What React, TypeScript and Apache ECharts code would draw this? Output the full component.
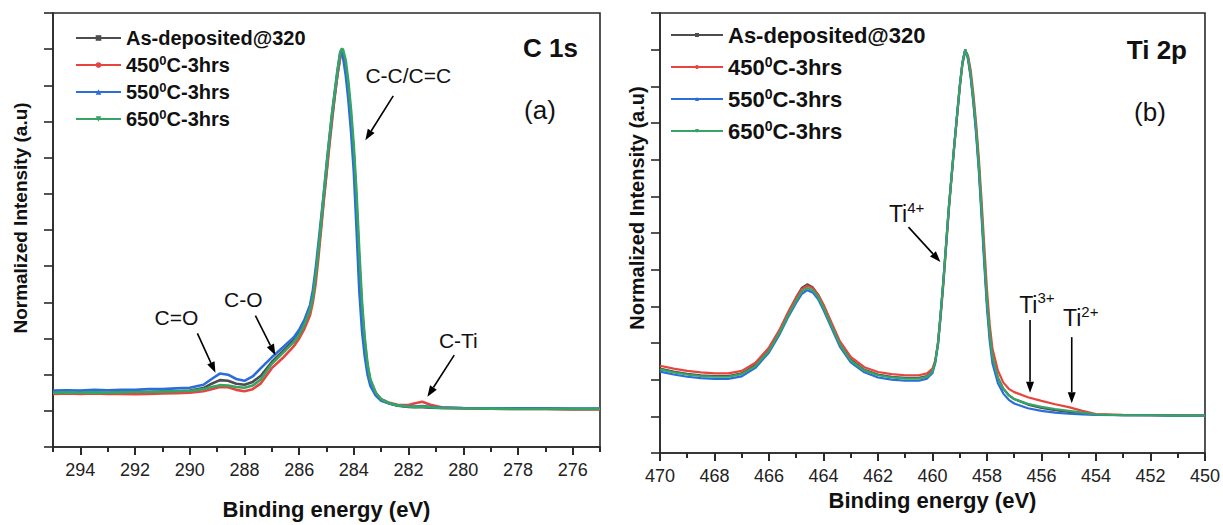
import React, { useEffect, useRef } from "react";
import * as echarts from "echarts";

const FONT = "Liberation Sans, Arial, Helvetica, sans-serif";

const seriesNames = ["As-deposited@320", "450C-3hrs", "550C-3hrs", "650C-3hrs"];
const legendLabels = ["As-deposited@320", "450{s|0}C-3hrs", "550{s|0}C-3hrs", "650{s|0}C-3hrs"];
const seriesColors = ["#4d4d4d", "#e8443e", "#2a6ddb", "#35a465"];
const seriesSymbols = ["rect", "circle", "triangle", "path://M0,0L10,0L5,9Z"];

const c1sEnergy = [295, 294.5, 294, 293.5, 293, 292.5, 292, 291.5, 291, 290.5, 290, 289.5, 289.2, 288.9, 288.6, 288.3, 288, 287.7, 287.4, 287, 286.6, 286.2, 286, 285.8, 285.6, 285.5, 285.4, 285.3, 285.2, 285.1, 285, 284.9, 284.8, 284.7, 284.6, 284.5, 284.45, 284.4, 284.3, 284.2, 284.1, 284, 283.9, 283.8, 283.7, 283.6, 283.5, 283.4, 283.2, 283, 282.7, 282.4, 282, 281.8, 281.5, 281.2, 280.8, 280, 279, 278, 277, 276, 275];
const c1sAsDep = [0.05, 0.05, 0.049, 0.05, 0.05, 0.051, 0.051, 0.052, 0.053, 0.054, 0.056, 0.063, 0.075, 0.085, 0.083, 0.075, 0.072, 0.08, 0.097, 0.135, 0.165, 0.195, 0.215, 0.245, 0.285, 0.318, 0.37, 0.44, 0.51, 0.59, 0.66, 0.74, 0.81, 0.87, 0.93, 0.98, 0.99, 0.985, 0.95, 0.88, 0.8, 0.7, 0.56, 0.39, 0.26, 0.175, 0.115, 0.08, 0.047, 0.03, 0.02, 0.014, 0.011, 0.01, 0.01, 0.009, 0.008, 0.007, 0.007, 0.006, 0.006, 0.005, 0.005];
const c1s450 = [0.047, 0.048, 0.047, 0.048, 0.047, 0.047, 0.046, 0.047, 0.048, 0.049, 0.05, 0.054, 0.06, 0.066, 0.065, 0.058, 0.054, 0.06, 0.076, 0.118, 0.146, 0.178, 0.2, 0.228, 0.265, 0.3, 0.35, 0.42, 0.5, 0.58, 0.655, 0.73, 0.8, 0.87, 0.93, 0.975, 0.985, 0.985, 0.955, 0.89, 0.81, 0.71, 0.57, 0.41, 0.28, 0.19, 0.125, 0.085, 0.05, 0.032, 0.022, 0.017, 0.016, 0.02, 0.025, 0.017, 0.01, 0.007, 0.006, 0.005, 0.005, 0.004, 0.004];
const c1s550 = [0.056, 0.057, 0.056, 0.058, 0.057, 0.058, 0.058, 0.06, 0.06, 0.062, 0.064, 0.072, 0.088, 0.103, 0.1, 0.088, 0.083, 0.095, 0.118, 0.148, 0.175, 0.203, 0.224, 0.253, 0.293, 0.333, 0.39, 0.46, 0.53, 0.6, 0.68, 0.75, 0.82, 0.88, 0.94, 0.99, 1.0, 0.98, 0.93, 0.86, 0.77, 0.66, 0.5, 0.33, 0.22, 0.15, 0.1, 0.07, 0.042, 0.028, 0.02, 0.015, 0.012, 0.012, 0.013, 0.011, 0.009, 0.008, 0.007, 0.007, 0.006, 0.006, 0.006];
const c1s650 = [0.05, 0.051, 0.05, 0.051, 0.05, 0.051, 0.052, 0.052, 0.053, 0.054, 0.055, 0.06, 0.066, 0.071, 0.07, 0.066, 0.064, 0.07, 0.087, 0.13, 0.16, 0.19, 0.21, 0.24, 0.28, 0.313, 0.37, 0.44, 0.52, 0.6, 0.675, 0.75, 0.82, 0.88, 0.94, 0.99, 1.0, 1.0, 0.97, 0.91, 0.83, 0.73, 0.6, 0.44, 0.3, 0.2, 0.13, 0.088, 0.05, 0.032, 0.021, 0.015, 0.012, 0.011, 0.012, 0.01, 0.008, 0.007, 0.006, 0.005, 0.005, 0.005, 0.005];

const ti2pEnergy = [470, 469.5, 469, 468.5, 468, 467.5, 467, 466.5, 466, 465.6, 465.3, 465, 464.8, 464.6, 464.4, 464.2, 464, 463.7, 463.4, 463, 462.5, 462, 461.5, 461, 460.5, 460.2, 460, 459.9, 459.8, 459.7, 459.6, 459.5, 459.4, 459.3, 459.2, 459.1, 459, 458.9, 458.8, 458.7, 458.6, 458.5, 458.4, 458.3, 458.2, 458.1, 458, 457.9, 457.8, 457.6, 457.4, 457.2, 457, 456.5, 456, 455.5, 455, 454.5, 454, 453, 452, 451, 450];
const ti2pAsDep = [0.13, 0.122, 0.116, 0.112, 0.11, 0.11, 0.117, 0.14, 0.183, 0.235, 0.282, 0.325, 0.35, 0.36, 0.352, 0.332, 0.302, 0.25, 0.2, 0.155, 0.127, 0.114, 0.108, 0.105, 0.105, 0.11, 0.125, 0.15, 0.2, 0.28, 0.37, 0.47, 0.57, 0.655, 0.74, 0.82, 0.9, 0.965, 1.0, 0.98, 0.93, 0.86, 0.78, 0.68, 0.56, 0.43, 0.31, 0.22, 0.16, 0.105, 0.075, 0.058, 0.047, 0.032, 0.023, 0.017, 0.012, 0.008, 0.005, 0.003, 0.003, 0.002, 0.002];
const ti2p450 = [0.138, 0.13, 0.124, 0.12, 0.117, 0.117, 0.124, 0.146, 0.188, 0.238, 0.284, 0.325, 0.347, 0.356, 0.35, 0.332, 0.305, 0.255, 0.205, 0.162, 0.134, 0.121, 0.115, 0.112, 0.112, 0.117, 0.13, 0.152, 0.195, 0.27, 0.36, 0.46, 0.56, 0.65, 0.735, 0.815, 0.895, 0.96, 0.995, 0.985, 0.945, 0.88, 0.8, 0.705, 0.59, 0.465, 0.345, 0.25, 0.185, 0.125, 0.092, 0.075, 0.066, 0.052, 0.042, 0.033, 0.025, 0.015, 0.006, 0.004, 0.003, 0.003, 0.002];
const ti2p550 = [0.122, 0.114, 0.108, 0.104, 0.102, 0.102, 0.109, 0.132, 0.174, 0.225, 0.27, 0.31, 0.333, 0.344, 0.338, 0.32, 0.29, 0.24, 0.19, 0.147, 0.12, 0.106, 0.1, 0.097, 0.097, 0.103, 0.118, 0.145, 0.195, 0.28, 0.37, 0.47, 0.57, 0.655, 0.74, 0.82, 0.9, 0.965, 1.0, 0.975, 0.925, 0.855, 0.77, 0.67, 0.545, 0.415, 0.295, 0.205, 0.145, 0.09, 0.062, 0.045, 0.035, 0.022, 0.015, 0.01, 0.007, 0.005, 0.004, 0.003, 0.003, 0.002, 0.002];
const ti2p650 = [0.128, 0.12, 0.114, 0.11, 0.108, 0.108, 0.115, 0.137, 0.179, 0.23, 0.275, 0.316, 0.34, 0.35, 0.344, 0.326, 0.296, 0.246, 0.196, 0.152, 0.125, 0.112, 0.106, 0.103, 0.103, 0.108, 0.123, 0.148, 0.198, 0.28, 0.37, 0.47, 0.57, 0.655, 0.74, 0.82, 0.9, 0.965, 1.0, 0.98, 0.932, 0.865, 0.785, 0.688, 0.565, 0.435, 0.315, 0.225, 0.163, 0.105, 0.075, 0.057, 0.047, 0.034, 0.026, 0.02, 0.015, 0.01, 0.005, 0.003, 0.003, 0.002, 0.002];

const c1sMajorTicks = [276, 278, 280, 282, 284, 286, 288, 290, 292, 294];
const c1sMinorTicks = [275, 277, 279, 281, 283, 285, 287, 289, 291, 293, 295];
const ti2pMajorTicks = [450, 452, 454, 456, 458, 460, 462, 464, 466, 468, 470];
const ti2pMinorTicks = [451, 453, 455, 457, 459, 461, 463, 465, 467, 469];
const yTicks = [-0.1, 0, 0.1, 0.2, 0.3, 0.4, 0.5, 0.6, 0.7, 0.8, 0.9, 1.0, 1.1];

const c1sNotes = [
  { text: "{b|C-C/C=C}", at: [282.01, 0.931], from: [282.56, 0.871], to: [283.58, 0.748] },
  { text: "{b|C=O}", at: [290.49, 0.263], from: [289.72, 0.214], to: [289.06, 0.105] },
  { text: "{b|C-O}", at: [288.04, 0.312], from: [287.6, 0.263], to: [286.87, 0.154] },
  { text: "{b|C-Ti}", at: [280.18, 0.2], from: [280.33, 0.154], to: [281.31, 0.039] },
];
const ti2pNotes = [
  { text: "{t|Ti}{s|4+}", at: [460.95, 0.555], from: [460.88, 0.516], to: [459.71, 0.421] },
  { text: "{t|Ti}{s|3+}", at: [456.17, 0.309], from: [456.42, 0.263], to: [456.42, 0.064] },
  { text: "{t|Ti}{s|2+}", at: [454.56, 0.271], from: [454.89, 0.216], to: [454.89, 0.036] },
];

const c1sValues = [c1sAsDep, c1s450, c1s550, c1s650];
const ti2pValues = [ti2pAsDep, ti2p450, ti2p550, ti2p650];

const AX = "#2a2a2a";

function zip(xs: number[], ys: number[]) {
  return xs.map((x, i) => [x, ys[i]]);
}

function makeXAxes(gridIndex: number, min: number, max: number, major: number[], minor: number[], nameGap: number) {
  return [
    {
      type: "value", gridIndex, min, max, inverse: true, position: "bottom",
      name: "Binding energy (eV)", nameLocation: "middle", nameGap,
      nameTextStyle: { fontSize: 22, fontWeight: "bold", color: "#111", fontFamily: FONT },
      axisLine: { show: true, onZero: false, lineStyle: { color: AX, width: 1.6 } },
      axisTick: { show: true, inside: false, length: 8, customValues: major, lineStyle: { color: AX, width: 2 } },
      axisLabel: { show: true, customValues: major, fontSize: 18, color: "#222", margin: 14, fontFamily: FONT },
      splitLine: { show: false },
    },
    {
      type: "value", gridIndex, min, max, inverse: true, position: "bottom",
      axisLine: { show: false, onZero: false },
      axisTick: { show: true, inside: false, length: 5, customValues: minor, lineStyle: { color: AX, width: 2 } },
      axisLabel: { show: false },
      splitLine: { show: false },
    },
  ];
}

function makeYAxis(gridIndex: number) {
  return {
    type: "value", gridIndex, min: -0.1, max: 1.1,
    axisLine: { show: true, onZero: false, lineStyle: { color: AX, width: 1.6 } },
    axisTick: { show: true, inside: false, length: 9, customValues: yTicks, lineStyle: { color: AX, width: 1.6 } },
    axisLabel: { show: false },
    splitLine: { show: false },
  };
}

function makeSeries(xAxisIndex: number, yAxisIndex: number, energy: number[], values: number[][], width: number) {
  return seriesNames.map((name, i) => ({
    type: "line", name, xAxisIndex, yAxisIndex,
    data: zip(energy, values[i]),
    symbol: seriesSymbols[i], symbolSize: 5, showSymbol: false,
    lineStyle: { color: seriesColors[i], width },
    itemStyle: { color: seriesColors[i] },
    emphasis: { disabled: true },
    z: 2 + i,
  }));
}

function arrow(p0: number[], p1: number[]) {
  const dx = p1[0] - p0[0];
  const dy = p1[1] - p0[1];
  const L = Math.hypot(dx, dy) || 1;
  const ux = dx / L, uy = dy / L;
  const head = 11, half = 4;
  const bx = p1[0] - ux * head, by = p1[1] - uy * head;
  return [
    { type: "line", shape: { x1: p0[0], y1: p0[1], x2: bx, y2: by }, style: { stroke: "#000", lineWidth: 1.6 }, z: 50 },
    { type: "polygon", shape: { points: [[p1[0], p1[1]], [bx - uy * half, by + ux * half], [bx + uy * half, by - ux * half]] }, style: { fill: "#000" }, z: 50 },
  ];
}

export default function App() {
  const ref = useRef<HTMLDivElement>(null);
  useEffect(() => {
    const chart = echarts.init(ref.current as HTMLDivElement, null, { renderer: "svg" });
    const option: any = {
      animation: false,
      backgroundColor: "#ffffff",
      grid: [
        { left: 53, top: 13, width: 547, height: 440, show: true, borderColor: AX, borderWidth: 1.6, backgroundColor: "transparent" },
        { left: 660, top: 13, width: 548, height: 440, show: true, borderColor: AX, borderWidth: 1.6, backgroundColor: "transparent" },
      ],
      xAxis: [
        ...makeXAxes(0, 275, 295, c1sMajorTicks, c1sMinorTicks, 51),
        ...makeXAxes(1, 450, 470, ti2pMajorTicks, ti2pMinorTicks, 36),
      ],
      yAxis: [makeYAxis(0), makeYAxis(1)],
      legend: [
        {
          data: seriesNames, orient: "vertical", left: 75, top: 27, padding: 0,
          itemWidth: 45, itemHeight: 7, itemGap: 5,
          formatter: (n: string) => legendLabels[seriesNames.indexOf(n)],
          textStyle: {
            fontSize: 20, fontWeight: "bold", color: "#111", fontFamily: FONT, lineHeight: 22,
            rich: { s: { fontSize: 13, fontWeight: "bold", color: "#111", fontFamily: FONT, verticalAlign: "top", lineHeight: 14 } },
          },
        },
        {
          data: seriesNames, orient: "vertical", left: 670, top: 23, padding: 0,
          itemWidth: 52, itemHeight: 5, itemGap: 8,
          formatter: (n: string) => legendLabels[seriesNames.indexOf(n)],
          textStyle: {
            fontSize: 22, fontWeight: "bold", color: "#111", fontFamily: FONT, lineHeight: 24,
            rich: { s: { fontSize: 14, fontWeight: "bold", color: "#111", fontFamily: FONT, verticalAlign: "top", lineHeight: 15 } },
          },
        },
      ],
      series: [
        ...makeSeries(0, 0, c1sEnergy, c1sValues, 2.6),
        ...makeSeries(2, 1, ti2pEnergy, ti2pValues, 2.2),
      ],
    };
    chart.setOption(option);

    const noteRich = {
      b: { fontSize: 21, fill: "#111", fontFamily: FONT, verticalAlign: "bottom", lineHeight: 24 },
      t: { fontSize: 23, fill: "#111", fontFamily: FONT, verticalAlign: "bottom", lineHeight: 26 },
      s: { fontSize: 15, fill: "#111", fontFamily: FONT, verticalAlign: "top", lineHeight: 15 },
    } as any;
    const elements: any[] = [];
    const addNotes = (notes: any[], gridIndex: number) => {
      notes.forEach((n) => {
        const at = chart.convertToPixel({ gridIndex } as any, n.at) as number[];
        const from = chart.convertToPixel({ gridIndex } as any, n.from) as number[];
        const to = chart.convertToPixel({ gridIndex } as any, n.to) as number[];
        elements.push({
          type: "text", x: at[0], y: at[1], z: 50,
          style: { text: n.text, fontSize: 21, fontFamily: FONT, fill: "#111", align: "center", verticalAlign: "middle", rich: noteRich },
        });
        elements.push(...arrow(from, to));
      });
    };
    addNotes(c1sNotes, 0);
    addNotes(ti2pNotes, 1);

    const yTitle = (x: number, y: number, size: number) => ({
      type: "text", x, y, rotation: Math.PI / 2, z: 50,
      style: { text: "Normalized Intensity (a.u)", fontSize: size, fontWeight: "bold", fontFamily: FONT, fill: "#111", align: "center", verticalAlign: "middle" },
    });
    elements.push(yTitle(20, 218, 19));
    elements.push(yTitle(637, 208, 20));
    elements.push({ type: "text", x: 578, y: 48, z: 50, style: { text: "C 1s", fontSize: 26, fontWeight: "bold", fontFamily: FONT, fill: "#111", align: "right", verticalAlign: "middle" } });
    elements.push({ type: "text", x: 540, y: 110, z: 50, style: { text: "(a)", fontSize: 26, fontFamily: FONT, fill: "#111", align: "center", verticalAlign: "middle" } });
    elements.push({ type: "text", x: 1187, y: 50, z: 50, style: { text: "Ti 2p", fontSize: 26, fontWeight: "bold", fontFamily: FONT, fill: "#111", align: "right", verticalAlign: "middle" } });
    elements.push({ type: "text", x: 1150, y: 112, z: 50, style: { text: "(b)", fontSize: 26, fontFamily: FONT, fill: "#111", align: "center", verticalAlign: "middle" } });

    chart.setOption({ graphic: elements });
    return () => chart.dispose();
  }, []);
  return <div ref={ref} style={{ position: "absolute", left: 0, top: 0, width: 1223, height: 525 }} />;
}
